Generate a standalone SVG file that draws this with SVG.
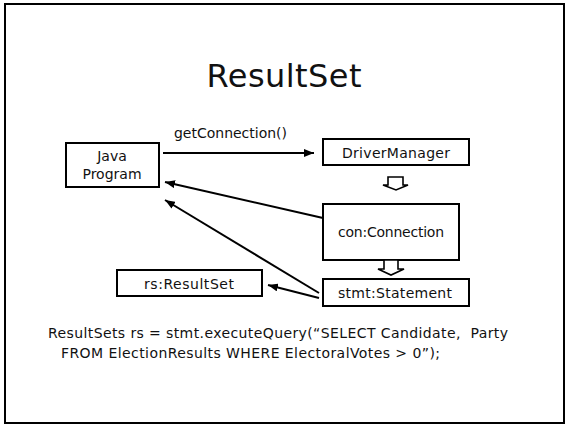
<svg xmlns="http://www.w3.org/2000/svg" width="565" height="424" viewBox="0 0 565 424">
<style>
.box{fill:#fff;stroke:#000;stroke-width:2}
.t{font-family:"DejaVu Sans","Liberation Sans",sans-serif;font-size:14px;fill:#111;white-space:pre}
.c{text-anchor:middle}
.ln{stroke:#000;stroke-width:2;fill:none}
.blk{fill:#fff;stroke:#000;stroke-width:1.6;stroke-linejoin:miter}
</style>
<defs>
<marker id="ah" viewBox="0 0 10 8" refX="10" refY="4" markerWidth="5" markerHeight="4" orient="auto" markerUnits="strokeWidth">
<path d="M0,0 L10,4 L0,8 Z" fill="#000"/>
</marker>
</defs>
<rect x="5" y="4" width="559" height="419" fill="#fff" stroke="#000" stroke-width="2"/>
<text class="t c" x="284" y="87" style="font-size:32px" textLength="155" lengthAdjust="spacing">ResultSet</text>

<g id="java">
<rect class="box" x="66" y="143" width="93" height="44"/>
<text class="t c" x="112" y="161">Java</text>
<text class="t c" x="112" y="179">Program</text>
</g>
<g id="driver">
<rect class="box" x="323" y="139" width="146" height="26"/>
<text class="t c" x="396" y="158" textLength="108" lengthAdjust="spacing">DriverManager</text>
</g>
<g id="con">
<rect class="box" x="323" y="204" width="136" height="56"/>
<text class="t c" x="391" y="237" textLength="106" lengthAdjust="spacing">con:Connection</text>
</g>
<g id="stmt">
<rect class="box" x="323" y="279" width="146" height="27"/>
<text class="t c" x="395" y="298" textLength="114" lengthAdjust="spacing">stmt:Statement</text>
</g>
<g id="rs">
<rect class="box" x="117" y="270" width="145" height="26"/>
<text class="t c" x="189" y="289" textLength="90" lengthAdjust="spacing">rs:ResultSet</text>
</g>

<g id="connectors">
<text class="t" x="174" y="138" textLength="113" lengthAdjust="spacing">getConnection()</text>
<line class="ln" x1="163" y1="153" x2="314" y2="153" marker-end="url(#ah)"/>
<line class="ln" x1="323" y1="218" x2="165" y2="182" marker-end="url(#ah)"/>
<line class="ln" x1="319" y1="293" x2="165" y2="200" marker-end="url(#ah)"/>
<line class="ln" x1="319" y1="298" x2="268" y2="285" marker-end="url(#ah)"/>
<path class="blk" d="M388,185 L388,177 L403,177 L403,185 L408,185 L396,190 L383,185 Z"/>
<path class="blk" d="M384,269 L384,260 L398,260 L398,269 L404,269 L391,275 L378,269 Z"/>
</g>

<text class="t" x="48" y="338" textLength="460" lengthAdjust="spacing">ResultSets rs = stmt.executeQuery(“SELECT Candidate,  Party</text>
<text class="t" x="61" y="358" textLength="379" lengthAdjust="spacing">FROM ElectionResults WHERE ElectoralVotes &gt; 0”);</text>
</svg>
